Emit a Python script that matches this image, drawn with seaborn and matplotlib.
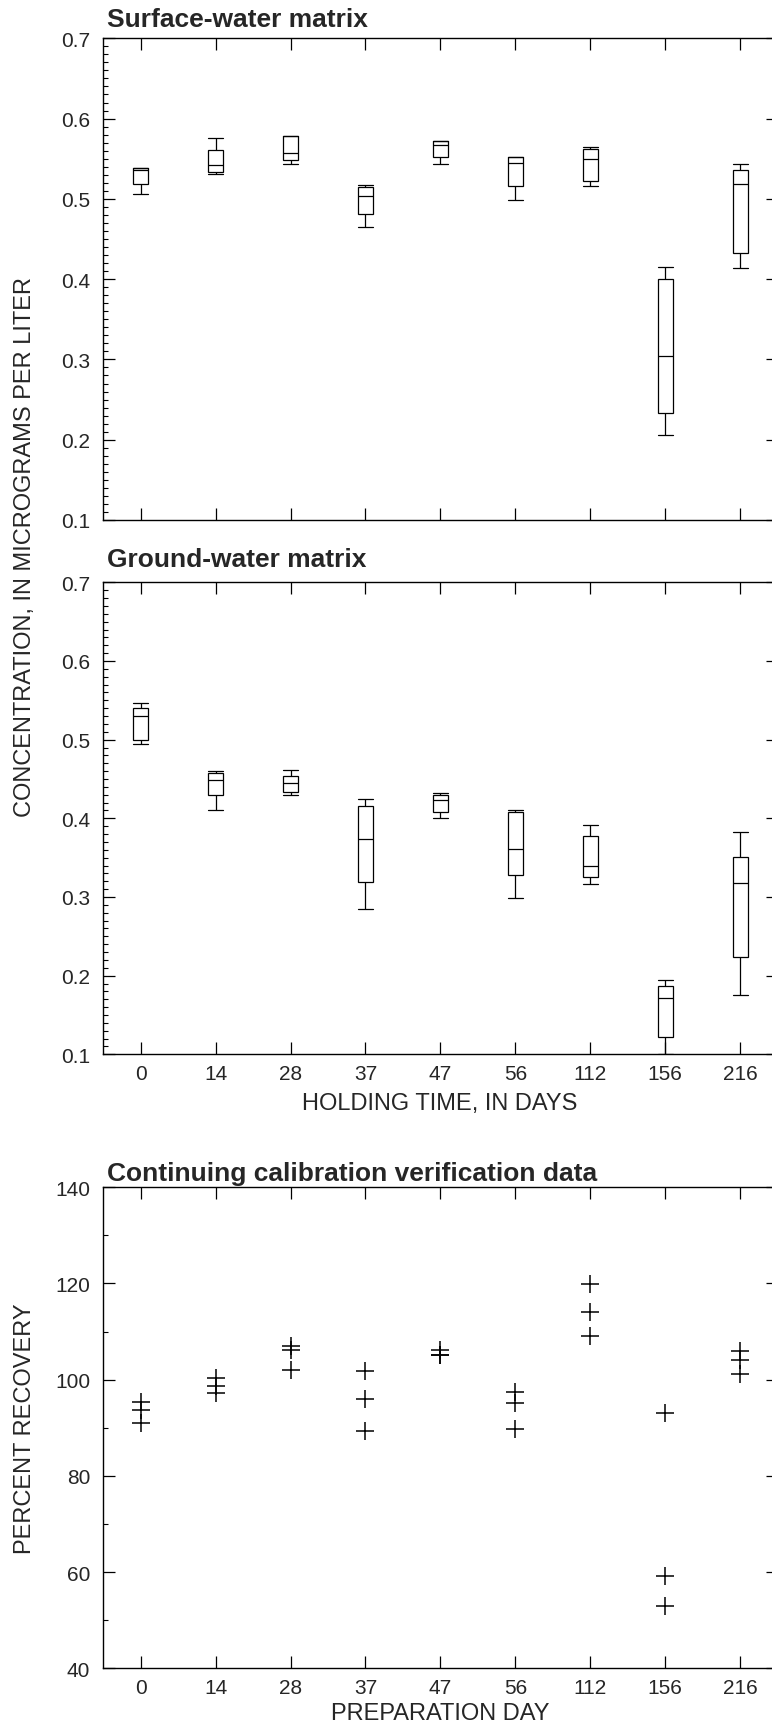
import numpy as np
import pandas as pd
import matplotlib
matplotlib.use("Agg")
import matplotlib.pyplot as plt
from matplotlib.ticker import MultipleLocator, FormatStrFormatter, NullLocator
import seaborn as sns

days = ["0", "14", "28", "37", "47", "56", "112", "156", "216"]

# box summaries: min, lower quartile, median, upper quartile, max
surface_min = [0.506, 0.531, 0.544, 0.465, 0.544, 0.498, 0.516, 0.206, 0.414]
surface_q1 = [0.519, 0.534, 0.549, 0.481, 0.552, 0.516, 0.522, 0.233, 0.433]
surface_med = [0.536, 0.542, 0.557, 0.503, 0.567, 0.545, 0.550, 0.304, 0.518]
surface_q3 = [0.538, 0.561, 0.578, 0.515, 0.572, 0.552, 0.562, 0.400, 0.536]
surface_max = [0.539, 0.576, 0.578, 0.517, 0.572, 0.552, 0.565, 0.415, 0.543]

ground_min = [0.495, 0.411, 0.429, 0.285, 0.400, 0.299, 0.316, 0.100, 0.175]
ground_q1 = [0.499, 0.429, 0.433, 0.319, 0.408, 0.328, 0.325, 0.122, 0.224]
ground_med = [0.530, 0.449, 0.445, 0.374, 0.423, 0.361, 0.339, 0.171, 0.318]
ground_q3 = [0.540, 0.458, 0.454, 0.416, 0.429, 0.408, 0.377, 0.187, 0.351]
ground_max = [0.546, 0.460, 0.462, 0.425, 0.432, 0.410, 0.391, 0.194, 0.382]

# continuing calibration verification, percent recovery (three runs per day)
ccv_a = [95.4, 100.4, 107.0, 101.9, 106.1, 97.4, 119.9, 93.0, 106.0]
ccv_b = [93.7, 98.6, 106.1, 95.9, 105.1, 95.2, 114.0, 59.2, 104.0]
ccv_c = [91.0, 97.3, 102.0, 89.4, 105.1, 89.8, 109.1, 53.0, 101.1]


def long_frame(*cols):
    vals = np.column_stack(cols)
    return pd.DataFrame({"day": np.repeat(days, vals.shape[1]),
                         "value": vals.ravel()})


surface = long_frame(surface_min, surface_q1, surface_med, surface_q3, surface_max)
ground = long_frame(ground_min, ground_q1, ground_med, ground_q3, ground_max)
ccv = long_frame(ccv_a, ccv_b, ccv_c)

sns.set_style("ticks")
plt.rcParams["font.family"] = ["Liberation Sans", "DejaVu Sans"]
plt.rcParams["axes.linewidth"] = 1.0

W, H = 772, 1731
fig = plt.figure(figsize=(W / 100, H / 100), dpi=100)


def make_axes(top_px, bottom_px):
    # the original is cropped on the right: the right spine sits just past the edge
    left, right = 103.3, 777.5
    return fig.add_axes([left / W, 1 - bottom_px / H,
                         (right - left) / W, (bottom_px - top_px) / H])


def style_axes(ax):
    ax.set_xlim(-0.5, 8.5)
    ax.xaxis.set_minor_locator(NullLocator())
    ax.tick_params(which="both", direction="in", top=True, right=True,
                   labelsize=15, color="black")
    ax.tick_params(which="major", length=8.6, width=0.9)
    ax.tick_params(which="minor", length=3.8, width=0.8)
    ax.tick_params(axis="y", pad=9.5)
    ax.tick_params(axis="x", pad=7)
    ax.set_xlabel("")
    ax.set_ylabel("")
    for s in ax.spines.values():
        s.set_color("black")


def box_panel(ax, df):
    sns.boxplot(data=df, x="day", y="value", order=days, ax=ax, width=0.2,
                whis=(0, 100), color="white", linecolor="black", linewidth=0.9,
                fliersize=0, capwidths=0.2)
    style_axes(ax)
    ax.set_ylim(0.1, 0.7)
    ax.yaxis.set_major_locator(MultipleLocator(0.1))
    ax.yaxis.set_minor_locator(MultipleLocator(0.01))
    ax.yaxis.set_major_formatter(FormatStrFormatter("%.1f"))


ax1 = make_axes(39.3, 521.0)
box_panel(ax1, surface)
ax1.tick_params(labelbottom=False)

ax2 = make_axes(583.3, 1055.3)
box_panel(ax2, ground)

ax3 = make_axes(1188.3, 1669.3)
sns.stripplot(data=ccv, x="day", y="value", order=days, ax=ax3, jitter=False,
              marker="+", size=12.5, color="black", linewidth=1.1)
style_axes(ax3)
ax3.set_ylim(40, 140)
ax3.yaxis.set_major_locator(MultipleLocator(20))
ax3.yaxis.set_minor_locator(MultipleLocator(10))

# panel titles and axis labels
title_kw = dict(fontsize=19, fontweight="bold", ha="left", va="baseline")
fig.text(106.7 / W, 1 - 27 / H, "Surface-water matrix", **title_kw)
fig.text(106.7 / W, 1 - 567 / H, "Ground-water matrix", **title_kw)
fig.text(106.7 / W, 1 - 1181 / H, "Continuing calibration verification data", **title_kw)

fig.text(25 / W, 1 - 547 / H, "CONCENTRATION, IN MICROGRAMS PER LITER",
         rotation=90, ha="center", va="center", fontsize=17)
fig.text(25 / W, 1 - 1429 / H, "PERCENT RECOVERY",
         rotation=90, ha="center", va="center", fontsize=17)
fig.text(440 / W, 1 - 1104 / H, "HOLDING TIME, IN DAYS",
         ha="center", va="center", fontsize=17)
fig.text(440 / W, 1 - 1714 / H, "PREPARATION DAY",
         ha="center", va="center", fontsize=17)

fig.savefig("out.png", dpi=100)
